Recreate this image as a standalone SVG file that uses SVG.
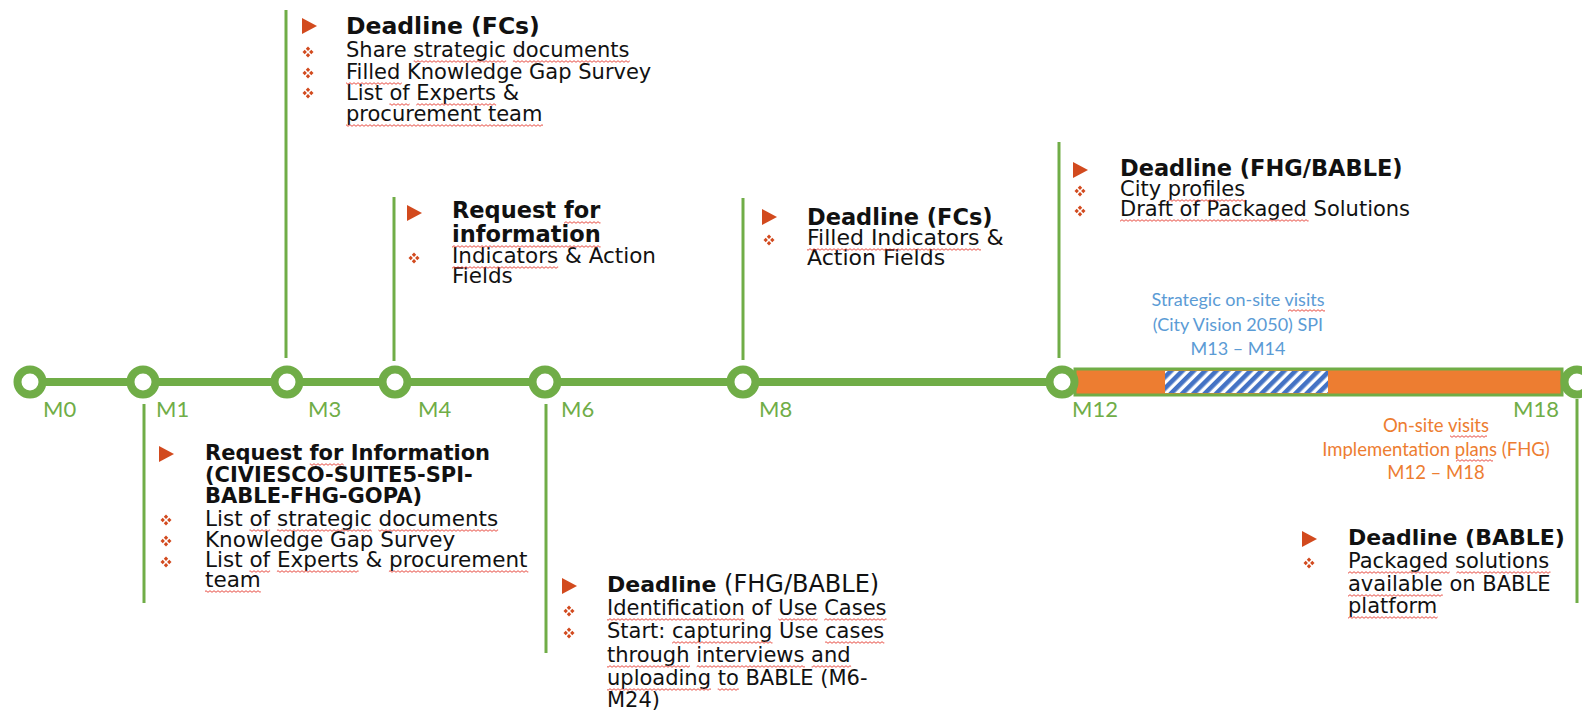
<svg xmlns="http://www.w3.org/2000/svg" xmlns:xlink="http://www.w3.org/1999/xlink" width="1582" height="712" viewBox="0 0 1582 712">
<style>
.t{font-family:"DejaVu Sans",sans-serif;font-size:21px;fill:#111}
.h{font-family:"DejaVu Sans",sans-serif;font-size:22.5px;font-weight:bold;fill:#111}
.m{font-family:Lato,"Open Sans",sans-serif;font-size:22px;fill:#70AD47}
.blue{font-family:Lato,"Open Sans",sans-serif;font-size:18px;fill:#5B9BD5}
.org{font-family:Lato,"Open Sans",sans-serif;font-size:18.5px;fill:#ED7D31}
.g{stroke:#70AD47;stroke-width:3;fill:none}
.ring{fill:#fff;stroke:#70AD47;stroke-width:8}
.w{fill:url(#wave)}
</style>
<defs>
<polygon id="tri" points="0,0 15,8 0,16" fill="#D24A1E"/>
<g id="bul" fill="#D24A1E">
<polygon points="0,-5.5 2.2,-3.3 0,-1.1 -2.2,-3.3"/>
<polygon points="0,5.5 2.2,3.3 0,1.1 -2.2,3.3"/>
<polygon points="-5.5,0 -3.3,2.2 -1.1,0 -3.3,-2.2"/>
<polygon points="5.5,0 3.3,2.2 1.1,0 3.3,-2.2"/>
</g>
<pattern id="hatch" patternUnits="userSpaceOnUse" width="8" height="8" patternTransform="rotate(45)">
<rect width="8" height="8" fill="#fff"/>
<rect width="4.6" height="8" fill="#4472C4"/>
</pattern>
<pattern id="wave" patternUnits="userSpaceOnUse" width="4" height="3">
<path d="M0,2.3 L2,0.7 L4,2.3" fill="none" stroke="#E53A2F" stroke-width="0.9"/>
</pattern>
</defs>

<g id="connectors">
<line x1="30" y1="382" x2="1070" y2="382" stroke="#70AD47" stroke-width="8"/>
<line class="g" x1="286" y1="10" x2="286" y2="358"/>
<line class="g" x1="394" y1="197" x2="394" y2="361"/>
<line class="g" x1="743" y1="198" x2="743" y2="360"/>
<line class="g" x1="1059" y1="142" x2="1059" y2="358"/>
<line class="g" x1="144" y1="404" x2="144" y2="603"/>
<line class="g" x1="546" y1="404" x2="546" y2="653"/>
<line class="g" x1="1577" y1="399" x2="1577" y2="603"/>
</g>

<g id="bar">
<rect x="1075" y="369" width="487" height="26" fill="#ED7D31" stroke="#70AD47" stroke-width="3"/>
<rect x="1165" y="371" width="163" height="22" fill="url(#hatch)"/>
</g>

<g id="milestones">
<circle class="ring" cx="30" cy="382" r="12.5"/>
<circle class="ring" cx="143" cy="382" r="12.5"/>
<circle class="ring" cx="287" cy="382" r="12.5"/>
<circle class="ring" cx="395" cy="382" r="12.5"/>
<circle class="ring" cx="545" cy="382" r="12.5"/>
<circle class="ring" cx="743" cy="382" r="12.5"/>
<circle class="ring" cx="1062" cy="382" r="12.5"/>
<circle class="ring" cx="1577" cy="382" r="12.5"/>
<text class="m" x="43" y="417">M0</text>
<text class="m" x="156" y="417">M1</text>
<text class="m" x="308" y="417">M3</text>
<text class="m" x="418" y="417">M4</text>
<text class="m" x="561" y="417">M6</text>
<text class="m" x="759" y="417">M8</text>
<text class="m" x="1072" y="417">M12</text>
<text class="m" x="1559" y="417" text-anchor="end">M18</text>
</g>

<g id="node-spi" text-anchor="middle">
<text class="blue" x="1238" y="306">Strategic on-site visits</text>
<text class="blue" x="1238" y="331">(City Vision 2050) SPI</text>
<text class="blue" x="1238" y="355">M13 – M14</text>
</g>

<g id="node-fhg" text-anchor="middle">
<text class="org" x="1436" y="432">On-site visits</text>
<text class="org" x="1436" y="456">Implementation plans (FHG)</text>
<text class="org" x="1436" y="479">M12 – M18</text>
</g>

<g id="node-m3">
<use xlink:href="#tri" x="302" y="18"/>
<text class="h" x="346" y="34" style="font-size:23.5px">Deadline (FCs)</text>
<use xlink:href="#bul" x="308" y="52"/>
<use xlink:href="#bul" x="308" y="73"/>
<use xlink:href="#bul" x="308" y="93"/>
<text class="t" x="346" y="57">Share strategic documents</text>
<text class="t" x="346" y="79">Filled Knowledge Gap Survey</text>
<text class="t" x="346" y="100">List of Experts &amp;</text>
<text class="t" x="346" y="121">procurement team</text>
</g>

<g id="node-m4">
<use xlink:href="#tri" x="407" y="205"/>
<text class="h" x="452" y="218">Request for</text>
<text class="h" x="452" y="242">information</text>
<use xlink:href="#bul" x="414" y="258"/>
<text class="t" x="452" y="263" style="font-size:21.5px">Indicators &amp; Action</text>
<text class="t" x="452" y="283" style="font-size:21.5px">Fields</text>
</g>

<g id="node-m8">
<use xlink:href="#tri" x="762" y="209"/>
<text class="h" x="807" y="225">Deadline (FCs)</text>
<use xlink:href="#bul" x="769" y="240"/>
<text class="t" x="807" y="245" style="font-size:22px">Filled Indicators &amp;</text>
<text class="t" x="807" y="265" style="font-size:22px">Action Fields</text>
</g>

<g id="node-m12">
<use xlink:href="#tri" x="1073" y="162"/>
<text class="h" x="1120" y="176">Deadline (FHG/BABLE)</text>
<use xlink:href="#bul" x="1080" y="191"/>
<use xlink:href="#bul" x="1080" y="211"/>
<text class="t" x="1120" y="196">City profiles</text>
<text class="t" x="1120" y="216">Draft of Packaged Solutions</text>
</g>

<g id="node-m1">
<use xlink:href="#tri" x="159" y="446"/>
<text class="h" x="205" y="460" style="font-size:21px">Request for Information</text>
<text class="h" x="205" y="482" style="font-size:21px">(CIVIESCO-SUITE5-SPI-</text>
<text class="h" x="205" y="503" style="font-size:21px">BABLE-FHG-GOPA)</text>
<use xlink:href="#bul" x="166" y="520"/>
<use xlink:href="#bul" x="166" y="541"/>
<use xlink:href="#bul" x="166" y="562"/>
<text class="t" x="205" y="526" style="font-size:21.5px">List of strategic documents</text>
<text class="t" x="205" y="547" style="font-size:21.5px">Knowledge Gap Survey</text>
<text class="t" x="205" y="567" style="font-size:21.5px">List of Experts &amp; procurement</text>
<text class="t" x="205" y="587" style="font-size:21.5px">team</text>
</g>

<g id="node-m6">
<use xlink:href="#tri" x="562" y="578"/>
<text class="t" x="607" y="592" style="font-size:24px"><tspan class="h" style="font-size:22px">Deadline</tspan> (FHG/BABLE)</text>
<use xlink:href="#bul" x="569" y="611"/>
<use xlink:href="#bul" x="569" y="633"/>
<text class="t" x="607" y="615">Identification of Use Cases</text>
<text class="t" x="607" y="638">Start: capturing Use cases</text>
<text class="t" x="607" y="662">through interviews and</text>
<text class="t" x="607" y="685">uploading to BABLE (M6-</text>
<text class="t" x="607" y="707">M24)</text>
</g>

<g id="node-m18">
<use xlink:href="#tri" x="1302" y="531"/>
<text class="h" x="1348" y="545" style="font-size:22px">Deadline (BABLE)</text>
<use xlink:href="#bul" x="1309" y="563"/>
<text class="t" x="1348" y="568">Packaged solutions</text>
<text class="t" x="1348" y="591">available on BABLE</text>
<text class="t" x="1348" y="613">platform</text>
</g>

<g id="spellcheck">
<rect class="w" x="413.7" y="0" width="92.5" height="3" transform="translate(0,60)"/>
<rect class="w" x="512.9" y="0" width="116.9" height="3" transform="translate(0,60)"/>
<rect class="w" x="346" y="0" width="55.8" height="3" transform="translate(0,82)"/>
<rect class="w" x="389.4" y="0" width="20.2" height="3" transform="translate(0,103)"/>
<rect class="w" x="416.3" y="0" width="79.8" height="3" transform="translate(0,103)"/>
<rect class="w" x="346" y="0" width="197" height="3" transform="translate(0,124)"/>
<rect class="w" x="564" y="0" width="36.5" height="3" transform="translate(0,221)"/>
<rect class="w" x="452" y="0" width="148.6" height="3" transform="translate(0,245)"/>
<rect class="w" x="452" y="0" width="106.2" height="3" transform="translate(0,266)"/>
<rect class="w" x="807" y="0" width="174" height="3" transform="translate(0,248)"/>
<rect class="w" x="1167.8" y="0" width="77.7" height="3" transform="translate(0,199)"/>
<rect class="w" x="1120" y="0" width="188.6" height="3" transform="translate(0,219)"/>
<rect class="w" x="309.8" y="0" width="33.9" height="3" transform="translate(0,463)"/>
<rect class="w" x="249.4" y="0" width="20.7" height="3" transform="translate(0,529)"/>
<rect class="w" x="276.9" y="0" width="94.7" height="3" transform="translate(0,529)"/>
<rect class="w" x="378.4" y="0" width="119.7" height="3" transform="translate(0,529)"/>
<rect class="w" x="249.4" y="0" width="20.7" height="3" transform="translate(0,570)"/>
<rect class="w" x="276.9" y="0" width="81.7" height="3" transform="translate(0,570)"/>
<rect class="w" x="388.9" y="0" width="139.4" height="3" transform="translate(0,570)"/>
<rect class="w" x="205" y="0" width="55.8" height="3" transform="translate(0,590)"/>
<rect class="w" x="607" y="0" width="137.7" height="3" transform="translate(0,618)"/>
<rect class="w" x="778.3" y="0" width="39.2" height="3" transform="translate(0,618)"/>
<rect class="w" x="824.2" y="0" width="62.3" height="3" transform="translate(0,618)"/>
<rect class="w" x="672.1" y="0" width="100.4" height="3" transform="translate(0,641)"/>
<rect class="w" x="825.1" y="0" width="59.2" height="3" transform="translate(0,641)"/>
<rect class="w" x="607" y="0" width="83" height="3" transform="translate(0,665)"/>
<rect class="w" x="696.7" y="0" width="108.2" height="3" transform="translate(0,665)"/>
<rect class="w" x="811.6" y="0" width="39.5" height="3" transform="translate(0,665)"/>
<rect class="w" x="607" y="0" width="104" height="3" transform="translate(0,688)"/>
<rect class="w" x="717.7" y="0" width="21.1" height="3" transform="translate(0,688)"/>
<rect class="w" x="1348" y="0" width="101.7" height="3" transform="translate(0,571)"/>
<rect class="w" x="1456.4" y="0" width="94.1" height="3" transform="translate(0,571)"/>
<rect class="w" x="1348" y="0" width="94.8" height="3" transform="translate(0,594)"/>
<rect class="w" x="1348" y="0" width="89.6" height="3" transform="translate(0,616)"/>
<rect class="w" x="1288" y="0" width="37" height="3" transform="translate(0,309)"/>
<rect class="w" x="1450" y="0" width="37" height="3" transform="translate(0,435)"/>
<rect class="w" x="1456" y="0" width="37" height="3" transform="translate(0,459)"/>
</g>
</svg>
